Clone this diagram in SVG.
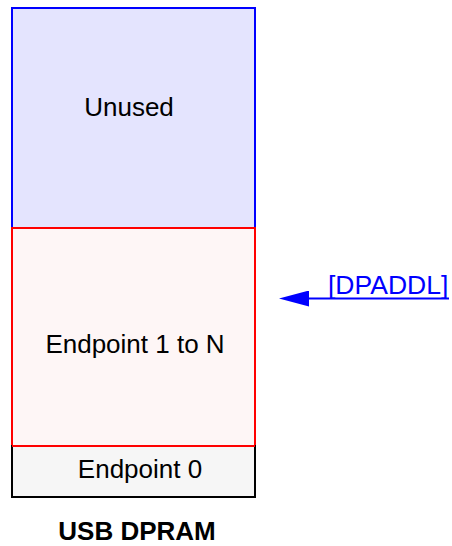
<svg xmlns="http://www.w3.org/2000/svg" width="452" height="546" viewBox="0 0 452 546">
<style>
text{font-family:"Liberation Sans",Arial,sans-serif;font-size:26px;fill:#000;text-anchor:middle}
.lbl{font-weight:bold}
.lnk{fill:#0000ff;text-anchor:start}
</style>
<defs>
<marker id="ah" markerWidth="30" markerHeight="16" refX="0" refY="8" orient="auto" markerUnits="userSpaceOnUse">
<path d="M0,0 L30,8 L0,16 Z" fill="#0000ff"/>
</marker>
</defs>
<rect x="0" y="0" width="452" height="546" fill="#ffffff"/>
<g id="unused">
<rect x="12" y="8" width="243" height="220" fill="#e4e4fe" stroke="#0000ff" stroke-width="2"/>
<text x="129" y="116">Unused</text>
</g>
<g id="endpoint1toN">
<rect x="12" y="228" width="243" height="218" fill="#fef6f6" stroke="#ff0000" stroke-width="2"/>
<text x="135" y="353">Endpoint 1 to N</text>
</g>
<g id="endpoint0">
<rect x="12" y="446" width="243" height="51" fill="#f6f6f6" stroke="#000000" stroke-width="2"/>
<line x1="12" y1="446" x2="255" y2="446" stroke="#ff0000" stroke-width="2"/>
<text x="140" y="478">Endpoint 0</text>
</g>
<g id="title">
<text class="lbl" x="137" y="540">USB DPRAM</text>
</g>
<g id="connectors">
<line x1="449" y1="298.5" x2="309" y2="298.5" stroke="#0000ff" stroke-width="2" marker-end="url(#ah)"/>
</g>
<g id="dpaddl">
<text class="lnk" x="328" y="294" style="font-size:26.5px">[DPADDL]</text>
</g>
</svg>
